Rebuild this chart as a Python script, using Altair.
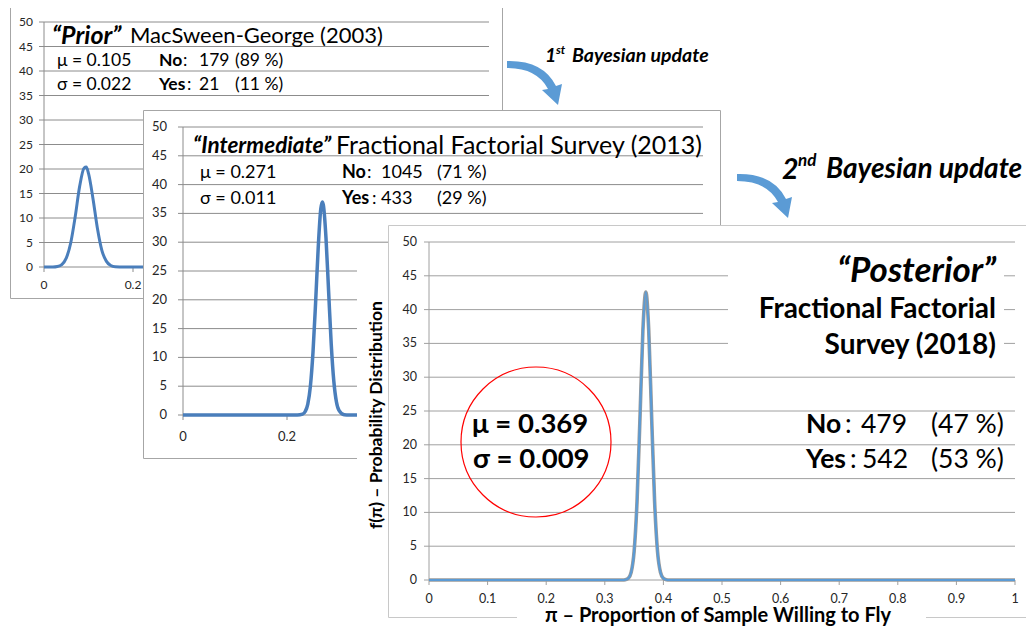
import altair as alt
import pandas as pd

FONT = "Lato"

# ---------------- data ----------------
Y_TICKS = [0, 5, 10, 15, 20, 25, 30, 35, 40, 45, 50]
Y_LABELS = ["0", "5", "10", "15", "20", "25", "30", "35", "40", "45", "50"]
X_TICKS_COARSE = [0, 0.2, 0.4, 0.6, 0.8, 1.0]
X_LABELS_COARSE = ["0", "0.2", "0.4", "0.6", "0.8", "1"]
X_TICKS_FINE = [0, 0.1, 0.2, 0.3, 0.4, 0.5, 0.6, 0.7, 0.8, 0.9, 1.0]
X_LABELS_FINE = ["0", "0.1", "0.2", "0.3", "0.4", "0.5", "0.6", "0.7", "0.8", "0.9", "1"]

# "Prior" MacSween-George (2003)
prior_x = [0, 0.02, 0.03, 0.04, 0.05, 0.06, 0.07, 0.08, 0.09, 0.095, 0.10, 0.11,
           0.12, 0.13, 0.14, 0.15, 0.16, 0.18, 1.0]
prior_y = [0, 0, 0.1, 0.5, 1.8, 4.9, 10.2, 16.4, 20.2, 20.4, 19.1, 14.0,
           7.9, 3.4, 1.2, 0.3, 0.05, 0, 0]

# "Intermediate" Fractional Factorial Survey (2013)
inter_x = [0, 0.22, 0.23, 0.235, 0.24, 0.245, 0.25, 0.255, 0.26, 0.265, 0.268, 0.27,
           0.275, 0.28, 0.285, 0.29, 0.295, 0.30, 0.31, 0.32, 1.0]
inter_y = [0, 0, 0.15, 0.6, 1.9, 5.0, 10.9, 19.5, 29.0, 35.8, 37.0, 36.4,
           30.7, 21.5, 12.4, 5.9, 2.3, 0.8, 0.05, 0, 0]

# "Posterior" Fractional Factorial Survey (2018)
post_x = [0, 0.33, 0.335, 0.34, 0.345, 0.35, 0.355, 0.36, 0.365, 0.37, 0.375,
          0.38, 0.385, 0.39, 0.395, 0.40, 0.405, 0.41, 1.0]
post_y = [0, 0, 0.04, 0.23, 1.15, 4.2, 11.6, 23.9, 36.9, 42.6, 36.9,
          23.9, 11.6, 4.2, 1.15, 0.23, 0.04, 0, 0]

# ---------------- layout helpers ----------------
OX, OY = 8, 8  # page margin


def X(px):
    return px - OX


def Y(py):
    return py - OY


ONE = pd.DataFrame({"k": [0]})


def box(x1, y1, x2, y2, fill="white", stroke=None, sw=1.0):
    kw = dict(fill=fill, opacity=1)
    if stroke:
        kw.update(stroke=stroke, strokeWidth=sw)
    else:
        kw.update(strokeWidth=0)
    return alt.Chart(ONE).mark_rect(**kw).encode(
        x=alt.value(X(x1)), x2=alt.value(X(x2)),
        y=alt.value(Y(y1)), y2=alt.value(Y(y2)))


def txt(s, x, y, size, weight="normal", style="normal", align="left",
        color="black", angle=0):
    return alt.Chart(ONE).mark_text(
        text=s, font=FONT, fontSize=size, fontWeight=weight, fontStyle=style,
        align=align, baseline="middle", color=color, angle=angle
    ).encode(x=alt.value(X(x)), y=alt.value(Y(y)))


def panel(geo, cx, cy, xt, xl, line_color, line_width, grid_color,
          label_size, outline=None):
    sxs = alt.Scale(domain=[0, 1], range=[X(geo["x0"]), X(geo["x1"])], nice=False, zero=False)
    sys_ = alt.Scale(domain=[0, 50], range=[Y(geo["y0"]), Y(geo["y50"])], nice=False, zero=False)
    out = []
    out.append(box(geo["bx1"] + 0.5, geo["by1"] + 0.5, geo["bx2"] + 0.5, geo["by2"] + 0.5,
                   stroke=geo["border"], sw=1))
    grid_df = pd.DataFrame({"v": Y_TICKS[1:], "a": 0.0, "b": 1.0})
    out.append(alt.Chart(grid_df).mark_rule(color=grid_color, strokeWidth=1).encode(
        x=alt.X("a:Q", scale=sxs, axis=None), x2="b:Q",
        y=alt.Y("v:Q", scale=sys_, axis=None)))
    ytick_df = pd.DataFrame({"v": Y_TICKS, "lab": Y_LABELS})
    out.append(alt.Chart(ytick_df).mark_rule(color=grid_color, strokeWidth=1).encode(
        x=alt.value(X(geo["x0"]) - 5), x2=alt.value(X(geo["x0"])),
        y=alt.Y("v:Q", scale=sys_, axis=None)))
    out.append(alt.Chart(ytick_df).mark_text(
        font=FONT, fontSize=label_size, align="right", baseline="middle", color="#262626"
    ).encode(x=alt.value(X(geo["x0"]) - geo["lgap"]),
             y=alt.Y("v:Q", scale=sys_, axis=None), text="lab:N"))
    xtick_df = pd.DataFrame({"v": xt, "lab": xl})
    out.append(alt.Chart(xtick_df).mark_rule(color=grid_color, strokeWidth=1).encode(
        x=alt.X("v:Q", scale=sxs, axis=None),
        y=alt.value(Y(geo["y0"])), y2=alt.value(Y(geo["y0"]) + 5)))
    out.append(alt.Chart(xtick_df).mark_text(
        font=FONT, fontSize=label_size, align="center", baseline="middle", color="#262626"
    ).encode(x=alt.X("v:Q", scale=sxs, axis=None),
             y=alt.value(Y(geo["xl_y"])), text="lab:N"))
    ax_df = pd.DataFrame({"a": [0.0], "b": [1.0], "lo": [0.0], "hi": [50.0]})
    out.append(alt.Chart(ax_df).mark_rule(color=grid_color, strokeWidth=1).encode(
        x=alt.X("a:Q", scale=sxs, axis=None),
        y=alt.Y("lo:Q", scale=sys_, axis=None), y2="hi:Q"))
    out.append(alt.Chart(ax_df).mark_rule(color=grid_color, strokeWidth=1).encode(
        x=alt.X("a:Q", scale=sxs, axis=None), x2="b:Q",
        y=alt.Y("lo:Q", scale=sys_, axis=None)))
    cdf = pd.DataFrame({"x": cx, "y": cy})
    if outline:
        out.append(alt.Chart(cdf).mark_line(
            color=outline, strokeWidth=line_width + 1.4, interpolate="monotone").encode(
            x=alt.X("x:Q", scale=sxs, axis=None), y=alt.Y("y:Q", scale=sys_, axis=None)))
    out.append(alt.Chart(cdf).mark_line(
        color=line_color, strokeWidth=line_width, interpolate="monotone").encode(
        x=alt.X("x:Q", scale=sxs, axis=None), y=alt.Y("y:Q", scale=sys_, axis=None)))
    return out


ARROW = ("M -0.933 -0.767 Q 0.267 -0.8 0.7 0.067 L 0.9 0 L 0.767 0.7 "
         "L 0.233 0.2 L 0.433 0.167 Q 0.067 -0.533 -0.933 -0.533 Z")


def arrow(cx, cy):
    return alt.Chart(ONE).mark_point(
        shape=ARROW, filled=True, fill="#5b9bd5", size=3600, opacity=1, strokeWidth=0
    ).encode(x=alt.value(X(cx)), y=alt.value(Y(cy)))


layers = []

# ---------------- panel 1 : Prior ----------------
g1 = dict(bx1=10, by1=7, bx2=502, by2=298, border="#a6a6a6",
          x0=44, x1=489, y0=267, y50=22, lgap=11, xl_y=285)
layers += panel(g1, prior_x, prior_y, X_TICKS_COARSE, X_LABELS_COARSE,
                "#4a7ebb", 3, "#8c8c8c", 12)
S1 = 17.5
layers += [
    txt("\u201cPrior\u201d", 52, 36, 25, "bold", "italic"),
    txt("MacSween-George (2003)", 130, 36, 22),
    txt("\u03bc = 0.105", 57, 61, S1),
    txt("No", 159, 61, S1, "bold"), txt(":", 183, 61, S1),
    txt("179", 199, 61, S1), txt("(89 %)", 235, 61, S1),
    txt("\u03c3 = 0.022", 57, 85, S1),
    txt("Yes", 159, 85, S1, "bold"), txt(":", 187, 85, S1),
    txt("21", 199, 85, S1), txt("(11 %)", 235, 85, S1),
]

# arrow 1
layers += [
    arrow(535, 84),
    txt("1", 545, 56, 19.5, "bold", "italic"),
    txt("st", 556, 50, 12, "bold", "italic"),
    txt("Bayesian update", 572, 56, 19.5, "bold", "italic"),
]

# ---------------- panel 2 : Intermediate ----------------
g2 = dict(bx1=143, by1=110, bx2=720, by2=458, border="#a6a6a6",
          x0=183, x1=703, y0=415, y50=127, lgap=16, xl_y=437)
layers += panel(g2, inter_x, inter_y, X_TICKS_COARSE, X_LABELS_COARSE,
                "#4a7ebb", 3.5, "#8c8c8c", 13)
S2 = 18
layers += [
    txt("\u201cIntermediate\u201d", 193, 146, 22.5, "bold", "italic"),
    txt("Fractional Factorial Survey (2013)", 336, 146, 25),
    txt("\u03bc = 0.271", 200, 173, S2),
    txt("No", 342, 173, S2, "bold"), txt(":", 367, 173, S2),
    txt("1045", 381, 173, S2), txt("(71 %)", 437, 173, S2),
    txt("\u03c3 = 0.011", 200, 199, S2),
    txt("Yes", 342, 199, S2, "bold"), txt(":", 372, 199, S2),
    txt("433", 381, 199, S2), txt("(29 %)", 437, 199, S2),
]

# arrow 2
layers += [
    arrow(765, 197),
    txt("2", 782, 170, 28.5, "bold", "italic"),
    txt("nd", 798, 161, 17, "bold", "italic"),
    txt("Bayesian update", 826, 170, 28, "bold", "italic"),
]

# y-axis title backdrop of panel 3 (covers panel 2 gridlines)
layers.append(box(357, 250, 388, 600))

# ---------------- panel 3 : Posterior ----------------
g3 = dict(bx1=388, by1=225, bx2=1040, by2=617, border="#c8c8c8",
          x0=429, x1=1015, y0=580, y50=242, lgap=12, xl_y=599)
layers += panel(g3, post_x, post_y, X_TICKS_FINE, X_LABELS_FINE,
                "#5b9bd5", 2.2, "#a0a0a0", 12.5, outline="#9a9a9a")
S3 = 26.5
layers += [
    box(728, 252, 1004, 366),
    txt("\u201cPosterior\u201d", 996, 271, 35, "bold", "italic", align="right"),
    txt("Fractional Factorial", 996, 310, 28, "bold", align="right"),
    txt("Survey (2018)", 996, 346, 28, "bold", align="right"),
    alt.Chart(ONE).mark_point(shape="circle", size=22500, filled=False,
                              stroke="#ff0000", strokeWidth=1.2, opacity=1).encode(
        x=alt.value(X(536)), y=alt.value(Y(442))),
    txt("\u03bc = 0.369", 472, 425, 27.5, "bold"),
    txt("\u03c3 = 0.009", 473, 460, 27.5, "bold"),
    txt("No", 806, 425, S3, "bold"), txt(":", 845, 425, S3),
    txt("479", 861, 425, S3), txt("(47 %)", 931, 425, S3),
    txt("Yes", 806, 460, S3, "bold"), txt(":", 850, 460, S3),
    txt("542", 862, 460, S3), txt("(53 %)", 931, 460, S3),
    txt("f(\u03c0) \u2013 Probability Distribution", 377, 415, 17.5, "bold",
        align="center", angle=270),
    box(517, 608, 926, 640),
    txt("\u03c0 \u2013 Proportion of Sample Willing to Fly", 718, 616, 20, "bold",
        align="center"),
]

chart = alt.layer(*layers).resolve_scale(x="independent", y="independent").properties(
    width=1018, height=619, padding=0,
    autosize=alt.AutoSizeParams(type="none"),
).configure_view(stroke=None)

chart.save("out.html", embed_options={"renderer": "svg", "actions": False})
